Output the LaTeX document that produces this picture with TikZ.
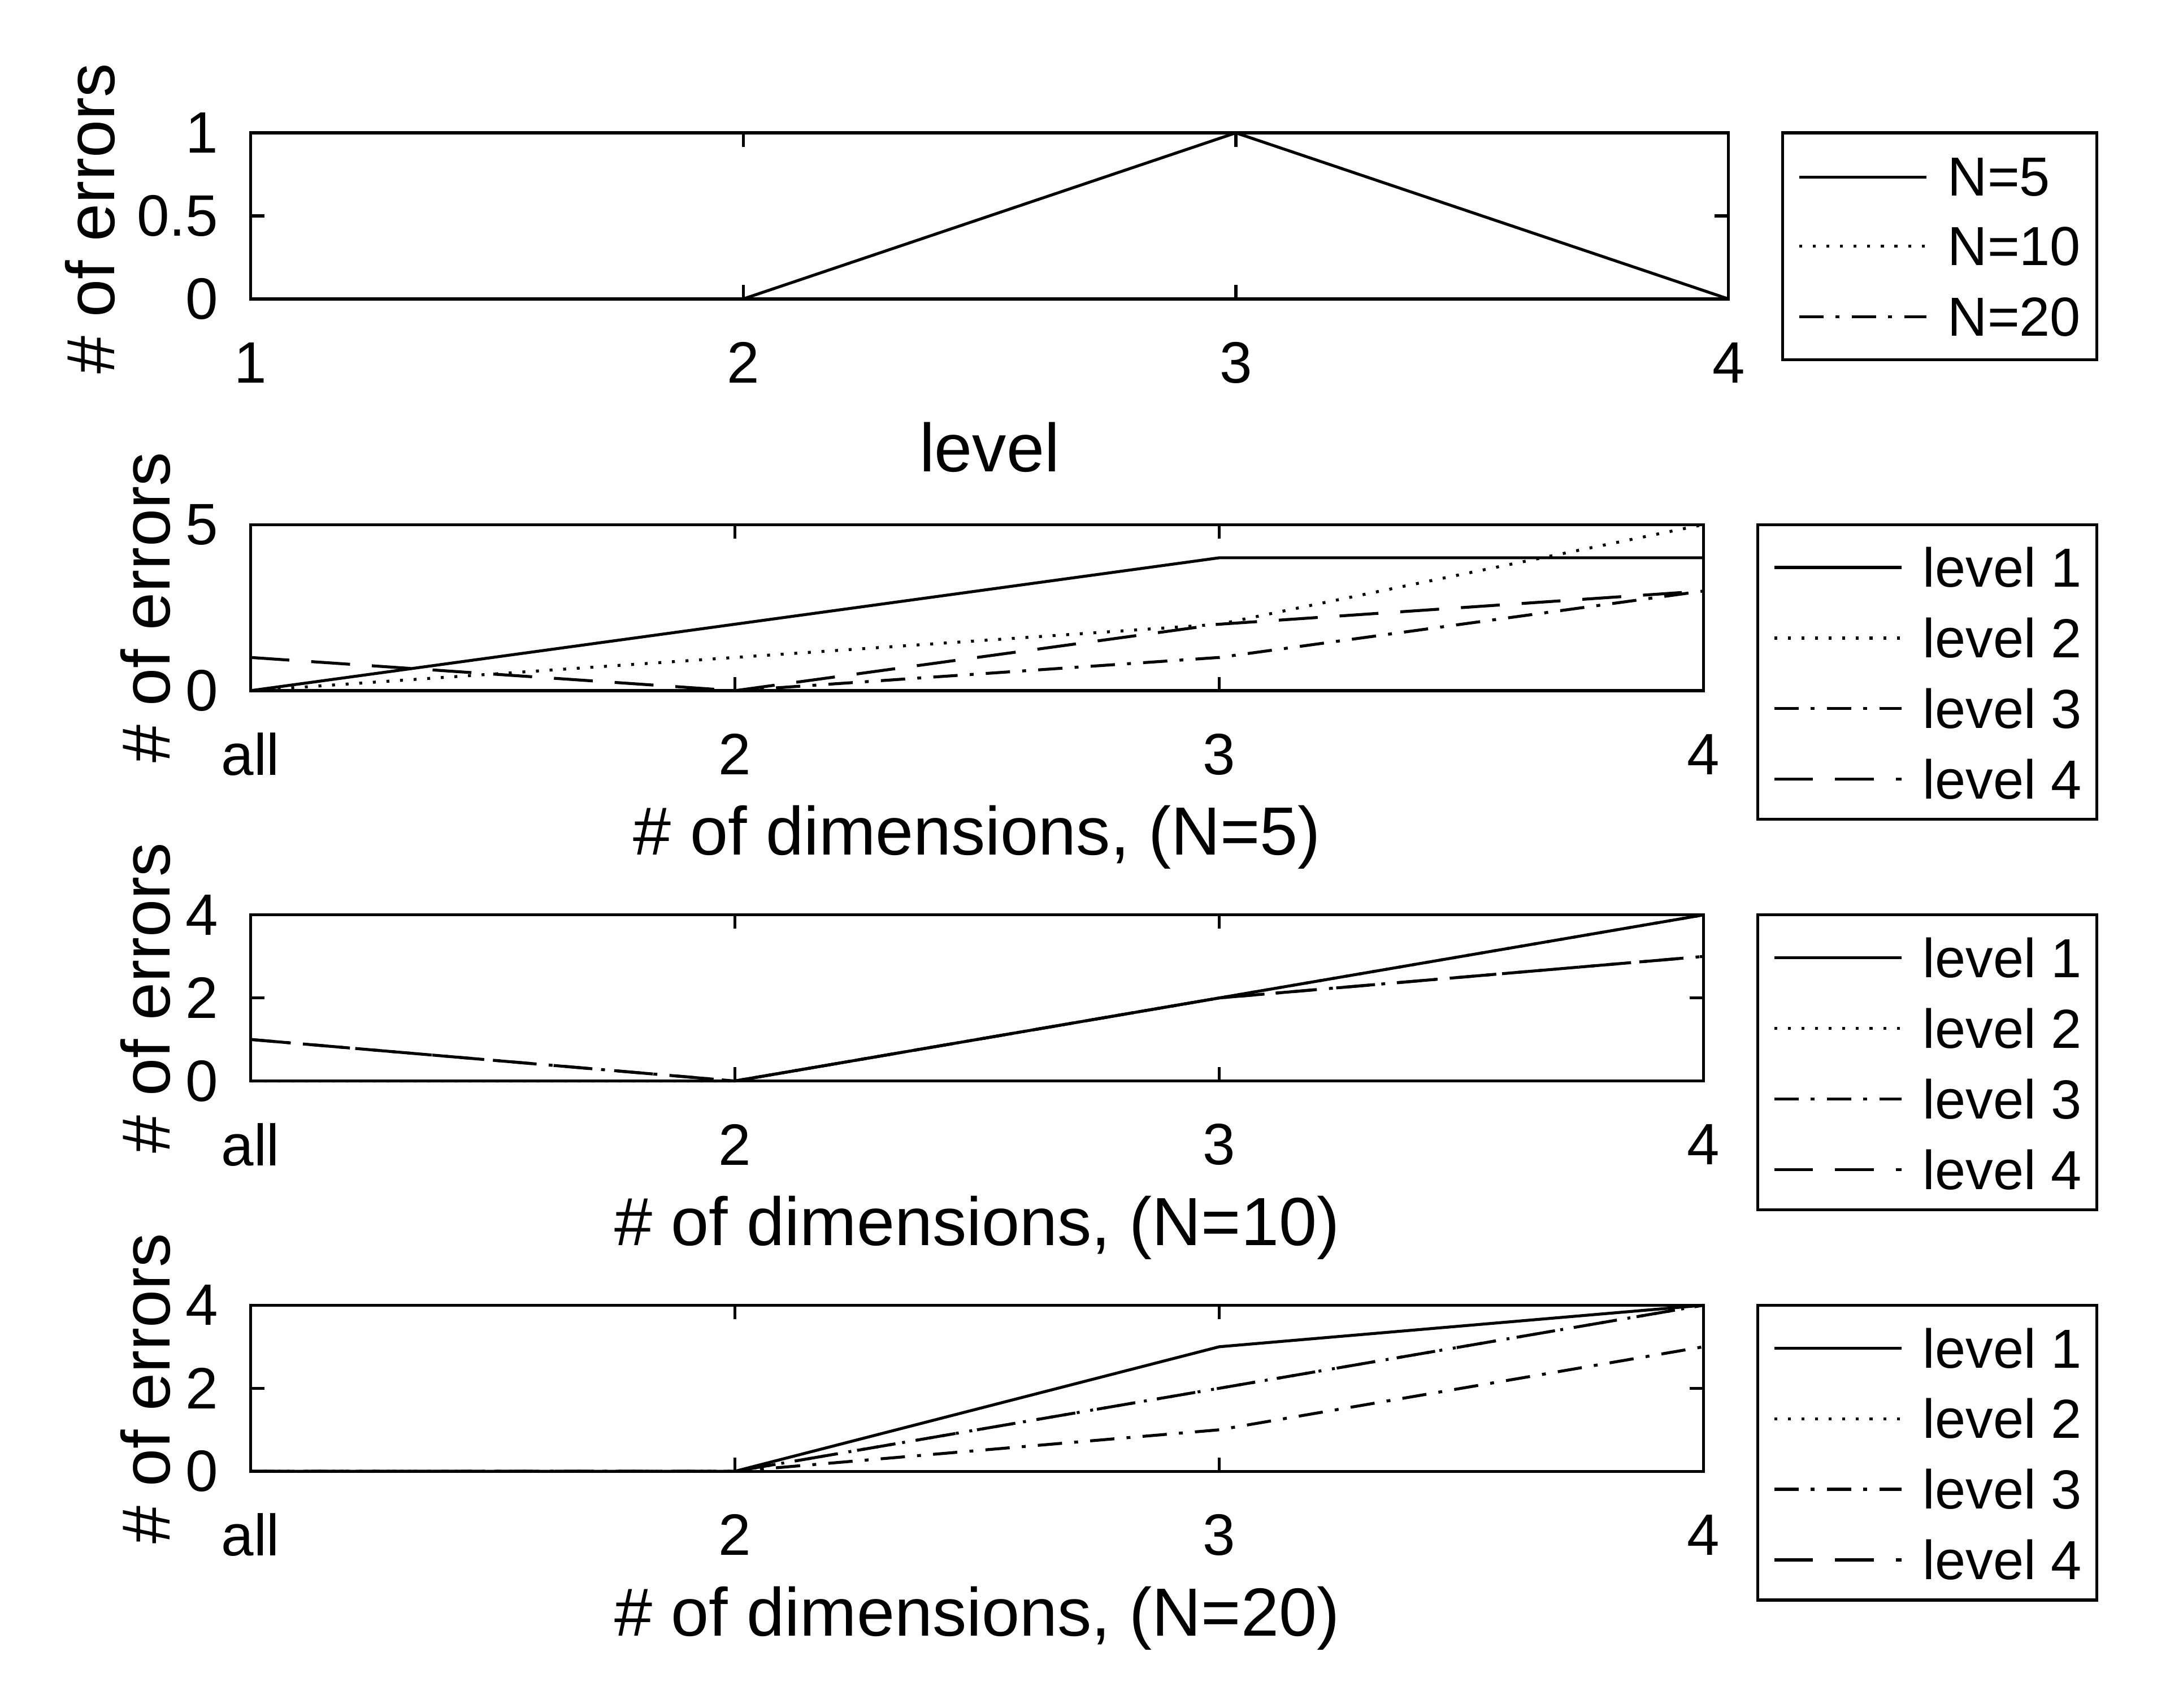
\documentclass[tikz,border=0pt]{standalone}
\usepackage{fontspec}
\setmainfont{Liberation Sans}
\begin{document}
\begin{tikzpicture}[x=0.01cm,y=-0.01cm,
  every node/.style={font=\fontsize{12}{14}\selectfont},
  lab/.style={font=\fontsize{14}{16}\selectfont},
  leg/.style={font=\fontsize{11.3}{13}\selectfont,anchor=west},
  ax/.style={line width=0.6pt},
  l1/.style={line width=0.6pt},
  l2/.style={line width=0.6pt,dash pattern=on 0.6pt off 2.2pt},
  l3/.style={line width=0.6pt,dash pattern=on 5pt off 2.5pt on 0.8pt off 2.5pt},
  l4/.style={line width=0.6pt,dash pattern=on 8pt off 4.5pt}]
\useasboundingbox (0,0) rectangle (1568,1234);
% Panel 1
\draw[ax] (181,96) rectangle (1249,216);
\foreach \x/\t in {181/1,537/2,893/3,1249/4}{
  \draw[ax] (\x,216)--(\x,206) (\x,96)--(\x,106);
  \node at (\x,262) {\t};}
\foreach \y/\t in {216/0,156/0.5,96/1}{
  \draw[ax] (181,\y)--(191,\y) (1249,\y)--(1239,\y);
  \node[anchor=east] at (170,\y) {\t};}
\draw[l3] (181,216)--(1249,216);
\draw[l1] (181,216)--(537,216)--(893,96)--(1249,216);
\node[lab] at (715,323) {level};
\node[lab,rotate=90] at (65,158) {\# of errors};
\draw[ax] (1288,96) rectangle (1515,260);
\foreach \s/\y/\t in {l1/128/N=5,l2/178/N=10,l3/229/N=20}{
  \draw[\s] (1300,\y)--(1392,\y); \node[leg] at (1395,\y) {\t};}
% Panels 2-4
\foreach \top/\ym/\lab/\A/\B/\C/\D/\lt in {
 379/5/{(N=5)}/{0,2,4,4}/{0,1,2,5}/{0,0,1,3}/{1,0,2,3}/{0/0,5/5},
 661/4/{(N=10)}/{0,0,2,4}/{0,0,2,4}/{1,0,2,3}/{1,0,2,3}/{0/0,2/2,4/4},
 943/4/{(N=20)}/{0,0,3,4}/{0,0,2,4}/{0,0,1,3}/{0,0,2,4}/{0/0,2/2,4/4}}{
  \pgfmathsetmacro\bot{\top+120}
  \draw[ax] (181,\top) rectangle (1231,\bot);
  \foreach \x/\t in {181/all,531/2,881/3,1231/4}{
    \draw[ax] (\x,\bot)--(\x,\bot-10) (\x,\top)--(\x,\top+10);
    \node at (\x,\bot+46) {\t};}
  \foreach \v/\t in \lt{
    \draw[ax] (181,\bot-\v*120/\ym)--(191,\bot-\v*120/\ym) (1231,\bot-\v*120/\ym)--(1221,\bot-\v*120/\ym);
    \node[anchor=east] at (170,\bot-\v*120/\ym) {\t};}
  \foreach \st/\dat in {l4/\D,l3/\C,l2/\B,l1/\A}{
    \edef\tmp{\dat}
    \foreach \v [count=\i from 0] in \tmp {
      \coordinate (p\i) at (181+\i*350,\bot-\v*120/\ym);}
    \draw[\st] (p0)--(p1)--(p2)--(p3);}
  \node[lab] at (706,\bot+106) {\# of dimensions, \lab};
  \node[lab,rotate=90] at (105,\top+60) {\# of errors};
  \draw[ax] (1270,\top) rectangle (1515,\top+213);
  \foreach \s/\dy/\t in {l1/31/level 1,l2/82/level 2,l3/133/level 3,l4/184/level 4}{
    \draw[\s] (1282,\top+\dy)--(1374,\top+\dy); \node[leg] at (1377,\top+\dy) {\t};}
}
\end{tikzpicture}
\end{document}
